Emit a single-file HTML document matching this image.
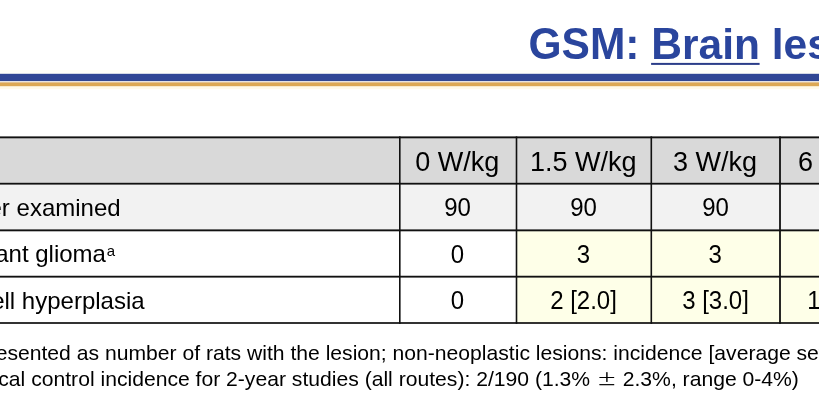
<!DOCTYPE html>
<html><head><meta charset="utf-8">
<style>
html,body{margin:0;padding:0;background:#fff;}
body{width:819px;height:414px;position:relative;overflow:hidden;font-family:"Liberation Sans",sans-serif;color:#000;}
.a{position:absolute;}
.t{position:absolute;white-space:nowrap;line-height:0;height:0;}
.c{text-align:center;width:300px;}
.n{transform:scaleY(1.035);transform-origin:0 0.34em;}
.cap{display:inline-block;transform:scaleY(1.035);transform-origin:0 0.3465em;}
.lc{display:inline-block;transform:scaleY(0.985);transform-origin:0 0.3465em;}
.title{font-weight:bold;font-size:42.5px;color:#2A459D;}
.h{font-size:27px;}
.b{font-size:24px;}
.f{font-size:21.14px;}
sup{position:relative;vertical-align:baseline;line-height:0;}
svg{position:absolute;left:0;top:0;}
</style></head><body>
<svg width="819" height="414" viewBox="0 0 819 414">
  <!-- bars -->
  <rect x="0" y="70" width="819" height="3.8" fill="#FFFFF6"/>
  <rect x="0" y="86.2" width="819" height="3" fill="#FFFAE8"/>
  <rect x="0" y="80.8" width="819" height="1.8" fill="#E6E2E0"/>
  <rect x="0" y="73.8" width="819" height="7.2" fill="#314892"/>
  <rect x="0" y="82.4" width="819" height="3.8" fill="#DCA854"/>
  <!-- fills -->
  <rect x="0" y="137.3" width="819" height="46.4" fill="#D9D9D9"/>
  <rect x="0" y="183.7" width="819" height="46.6" fill="#F2F2F2"/>
  <rect x="516.5" y="230.3" width="302.5" height="92.7" fill="#FEFFE8"/>
  <!-- lines -->
  <g fill="#111">
    <rect x="0" y="136.4" width="819" height="1.9"/>
    <rect x="0" y="182.8" width="819" height="1.8"/>
    <rect x="0" y="229.4" width="819" height="1.9"/>
    <rect x="0" y="275.75" width="819" height="1.85"/>
    <rect x="0" y="322.15" width="819" height="1.7"/>
    <rect x="399.0" y="136.4" width="1.6" height="187.45"/>
    <rect x="515.7" y="136.4" width="1.6" height="187.45"/>
    <rect x="650.5" y="136.4" width="1.6" height="187.45"/>
    <rect x="779.1" y="136.4" width="1.8" height="187.45"/>
  </g>
  <!-- title underline -->
  <rect x="651.1" y="62.9" width="108.5" height="2.0" fill="#2B3D8A"/>
</svg>

<!-- title -->
<div class="t title" id="title" style="left:528.5px;top:45px;"><span class="cap">GSM:</span> <span id="brain"><span class="cap">B</span><span class="lc">rain</span></span> <span class="lc">lesions</span></div>

<!-- header -->
<div class="t h c" style="left:307.3px;top:162px;">0 W/kg</div>
<div class="t h c" style="left:433.2px;top:162px;">1.5 W/kg</div>
<div class="t h c" style="left:565px;top:162px;">3 W/kg</div>
<div class="t h c" style="left:690px;top:162px;">6 W/kg</div>

<!-- row labels -->
<div class="t b" id="r1" style="left:-75.5px;top:208px;">Number examined</div>
<div class="t b" id="r2" style="left:-75.5px;top:254.2px;">Malignant glioma<sup style="font-size:15px;top:-6px;margin-left:0.8px;">a</sup></div>
<div class="t b" id="r3" style="left:-75.5px;top:301.3px;">Glial cell hyperplasia</div>

<!-- row 1 -->
<div class="t b c n" style="left:307.5px;top:208px;">90</div>
<div class="t b c n" style="left:433.5px;top:208px;">90</div>
<div class="t b c n" style="left:565.5px;top:208px;">90</div>
<div class="t b c n" style="left:690.5px;top:208px;">90</div>
<!-- row 2 -->
<div class="t b c n" style="left:307.5px;top:255.5px;transform:translateY(-0.5px) scaleY(1.035);">0</div>
<div class="t b c n" style="left:433.5px;top:255.5px;transform:translateY(-0.5px) scaleY(1.035);">3</div>
<div class="t b c n" style="left:565.1px;top:255.5px;transform:translateY(-0.5px) scaleY(1.035);">3</div>
<div class="t b c n" style="left:690.5px;top:255.5px;transform:translateY(-0.5px) scaleY(1.035);">3</div>
<!-- row 3 -->
<div class="t b c n" style="left:307.5px;top:301.3px;">0</div>
<div class="t b c n" style="left:433.5px;top:301.3px;">2 [2.0]</div>
<div class="t b c n" style="left:565.5px;top:301.3px;">3 [3.0]</div>
<div class="t b c n" style="left:690.5px;top:301.3px;">1 [1.0]</div>

<!-- footnotes -->
<div class="t f" id="f1" style="left:-73.6px;top:353.2px;">Data presented as number of rats with the lesion; non-neoplastic lesions: incidence [average severity]</div>
<div class="t f" id="f2" style="left:-69.37px;top:378.5px;"><sup style="font-size:14px;top:-7px;">a</sup>Historical control incidence for 2-year studies (all routes): 2/190 (1.3%</div>
<div class="t f" id="pm" style="left:598.05px;top:378.4px;font-family:'DejaVu Sans',sans-serif;font-weight:200;-webkit-text-stroke:0.35px #000;transform:scale(1.083,0.96);transform-origin:8.84px 0;">&#177;</div>
<div class="t f" id="f3" style="left:622.74px;top:378.5px;">2.3%, range 0-4%)</div>
</body></html>
